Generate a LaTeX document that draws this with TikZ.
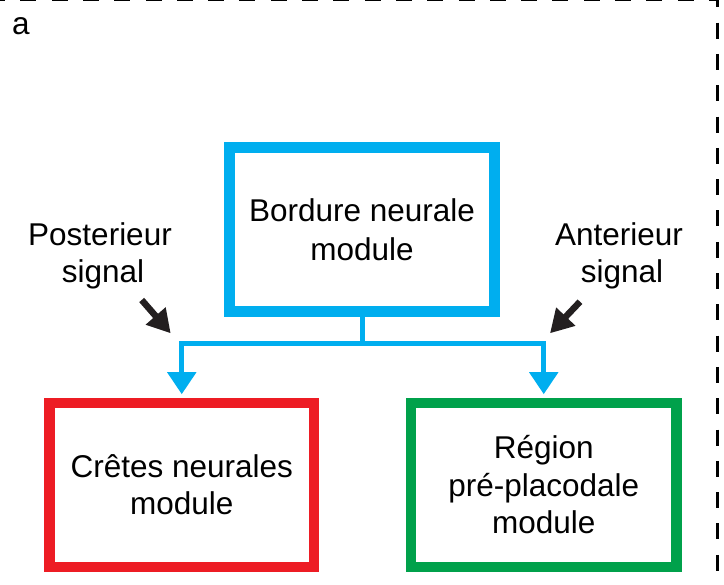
\documentclass[tikz,border=0pt]{standalone}
\usepackage{fontspec}
\setmainfont{Liberation Sans}
\usetikzlibrary{arrows.meta}
\definecolor{cblue}{HTML}{00AEEF}
\definecolor{cred}{HTML}{ED1C24}
\definecolor{cgreen}{HTML}{00A14B}
\definecolor{cblack}{HTML}{231F20}
\begin{document}
\begin{tikzpicture}[x=1pt,y=-1pt,
  lbl/.style={font=\fontsize{31.5}{37.5}\selectfont, align=center, inner sep=0pt},
  modbox/.style={draw, line width=10.5pt, inner sep=0pt, minimum height=164pt, lbl},
  bluecon/.style={draw=cblue, line width=5pt, -{Triangle[length=22pt,width=28pt]}, shorten >=3.3pt},
  sigarrow/.style={draw=cblack, line width=6.5pt, -{Triangle[length=23pt,width=25pt]}}
]
\useasboundingbox (0,0) rectangle (724,585);
% dashed frame
\draw[line width=3pt, dash pattern=on 16pt off 15.3pt] (-11,0) -- (717.5,0) -- (717.5,600);
% label a
\node[lbl, anchor=base west] (lblA) at (12,35) {a};
% modules
\node[modbox, draw=cblue, minimum width=265pt] (blue) at (362,229.5) {\raisebox{-2pt}{Bordure neurale}\\\raisebox{-3pt}{module}};
\node[modbox, draw=cred, minimum width=264.5pt] (red) at (181.75,484.8) {Crêtes neurales\\module};
\node[modbox, draw=cgreen, minimum width=265.5pt] (green) at (543.75,484.8) {Région\\pré-placodale\\module};
% connectors
\coordinate (j) at (362,344);
\draw[bluecon, -] (blue.south) -- (j);
\draw[bluecon] (j) -| (red.north);
\draw[bluecon] (j) -| (green.north);
% signals
\node[lbl] (post) at (100,256) {Posterieur\\\hspace*{6pt}signal};
\node[lbl] (ant) at (619,256) {Anterieur\\\hspace*{6pt}signal};
\coordinate (ps) at (141.7,300);
\coordinate (pe) at (170.7,333.3);
\coordinate (as) at (580,301.7);
\coordinate (ae) at (550,333.3);
\draw[sigarrow] (ps) -- (pe);
\draw[sigarrow] (as) -- (ae);
\end{tikzpicture}
\end{document}
